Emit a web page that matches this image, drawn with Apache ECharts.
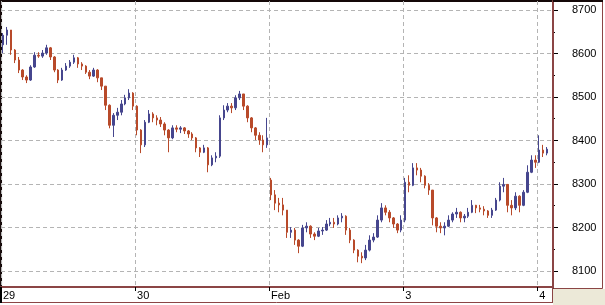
<!DOCTYPE html>
<html><head><meta charset="utf-8">
<script src="https://cdn.jsdelivr.net/npm/echarts@6/dist/echarts.min.js"></script>
<style>html,body{margin:0;padding:0;background:#fff}#c{width:605px;height:305px}</style>
</head><body><div id="c"></div>
<script>
const dayLabels = ['29', '30', 'Feb', '3', '4'];
const barsPerDay = 34;
const totalBars = 140;
const yTicks = [8100, 8200, 8300, 8400, 8500, 8600, 8700];
const yMinorTicks = [8150, 8250, 8350, 8450, 8550, 8650];
const yMin = 8063.2, yMax = 8720.7;

// [open, close, low, high]
const day29 = [
[8620,8642,8601,8647],[8642,8654,8620,8661],[8654,8608,8597,8654],[8608,8585,8578,8610],
[8585,8562,8555,8592],[8562,8546,8539,8564],[8546,8539,8532,8550],[8539,8569,8537,8573],
[8569,8596,8567,8603],[8596,8594,8590,8603],[8594,8601,8590,8608],[8601,8613,8597,8620],
[8613,8592,8585,8615],[8592,8562,8557,8594],[8562,8539,8532,8564],[8539,8562,8537,8567],
[8562,8571,8560,8578],[8571,8580,8567,8585],[8580,8590,8576,8597],[8590,8576,8567,8592],
[8576,8571,8562,8580],[8571,8557,8553,8573],[8557,8548,8541,8562],[8548,8562,8546,8567],
[8562,8544,8534,8564],[8544,8525,8516,8544],[8525,8481,8470,8525],[8481,8435,8428,8483],
[8435,8458,8408,8463],[8458,8465,8447,8475],[8465,8484,8458,8493],[8484,8498,8481,8505],
[8498,8509,8493,8518],[8509,8479,8470,8511]
];
const day30 = [
[8479,8424,8412,8481],[8424,8390,8371,8426],[8390,8442,8385,8447],[8442,8461,8440,8470],
[8461,8452,8442,8465],[8452,8447,8435,8458],[8447,8438,8431,8454],[8438,8424,8412,8442],
[8424,8406,8373,8426],[8406,8429,8403,8435],[8429,8426,8419,8435],[8426,8429,8417,8433],
[8429,8422,8415,8431],[8422,8415,8406,8424],[8415,8406,8401,8419],[8406,8383,8373,8408],
[8383,8373,8362,8385],[8373,8383,8371,8390],[8383,8344,8327,8385],[8344,8360,8341,8366],
[8360,8364,8350,8373],[8364,8452,8360,8458],[8452,8470,8447,8481],[8470,8479,8465,8486],
[8479,8475,8463,8486],[8475,8498,8470,8504],[8498,8507,8493,8514],[8507,8479,8470,8507],
[8479,8452,8442,8481],[8452,8429,8419,8454],[8429,8412,8401,8431],[8412,8401,8390,8419],
[8401,8390,8373,8412],[8390,8406,8383,8452]
];
const dayFeb1 = [
[8309,8275,8263,8314],[8275,8256,8240,8286],[8256,8252,8235,8268],[8252,8240,8228,8268],
[8240,8189,8176,8240],[8189,8194,8176,8201],[8194,8171,8160,8199],[8171,8157,8141,8173],
[8157,8199,8155,8206],[8199,8203,8189,8212],[8203,8185,8176,8205],[8185,8180,8171,8189],
[8180,8192,8178,8199],[8192,8194,8183,8201],[8194,8208,8192,8217],[8208,8212,8203,8222],
[8212,8208,8199,8222],[8208,8222,8205,8228],[8222,8226,8212,8233],[8226,8194,8183,8228],
[8194,8171,8164,8199],[8171,8148,8141,8173],[8148,8134,8120,8150],[8134,8130,8118,8143],
[8130,8148,8125,8160],[8148,8171,8145,8182],[8171,8178,8166,8187],[8178,8217,8176,8228],
[8217,8245,8212,8256],[8245,8235,8228,8251],[8235,8222,8212,8240],[8222,8208,8199,8224],
[8208,8194,8187,8210],[8194,8217,8189,8228]
];
const day3 = [
[8217,8304,8212,8314],[8304,8297,8281,8320],[8297,8337,8295,8348],[8337,8332,8320,8348],
[8332,8318,8304,8337],[8318,8297,8290,8320],[8297,8286,8275,8302],[8286,8222,8205,8286],
[8222,8203,8189,8224],[8203,8199,8187,8212],[8199,8203,8182,8212],[8203,8217,8201,8228],
[8217,8231,8212,8235],[8231,8235,8222,8245],[8235,8222,8212,8237],[8222,8226,8212,8231],
[8226,8235,8222,8245],[8235,8251,8233,8263],[8251,8245,8233,8252],[8245,8242,8235,8252],
[8242,8238,8228,8249],[8238,8228,8222,8240],[8228,8240,8222,8245],[8240,8263,8238,8268],
[8263,8295,8260,8304],[8295,8299,8281,8314],[8299,8251,8235,8300],[8251,8245,8228,8263],
[8245,8272,8240,8281],[8272,8251,8235,8274],[8251,8281,8249,8286],[8281,8327,8279,8343],
[8327,8355,8325,8366],[8355,8350,8337,8366]
];
const day4 = [
[8350,8378,8348,8412],[8378,8371,8362,8390],[8371,8380,8366,8385]
];

const categories = [];
for (let i = 0; i < totalBars; i++) {
  categories.push(dayLabels[Math.floor(i / barsPerDay)] + ' #' + (i % barsPerDay + 1));
}
const ohlc = [].concat(day29, day30, dayFeb1, day3, day4);

const BROWN = '#8b4545';
const GRIDC = '#b4b4b4';
const isDayStart = (i) => i % barsPerDay === 0;

const chart = echarts.init(document.getElementById('c'), null, {renderer: 'canvas'});
chart.setOption({
  animation: false,
  backgroundColor: '#fff',
  grid: {left: 1, right: 52, top: 1, bottom: 18, show: true, borderColor: '#140808', borderWidth: 2, backgroundColor: '#fff'},
  xAxis: [{
    type: 'category', data: categories, boundaryGap: true, position: 'bottom',
    axisLine: {show: true, lineStyle: {color: BROWN, width: 2}},
    axisTick: {show: true, interval: isDayStart, length: 4, lineStyle: {color: '#000'}},
    axisLabel: {interval: isDayStart, formatter: (v, i) => dayLabels[Math.floor(i / barsPerDay)],
      align: 'left', margin: 3, color: '#000', fontSize: 11, fontFamily: 'Liberation Sans'},
    splitLine: {show: true, interval: isDayStart, lineStyle: {color: GRIDC, type: [4, 3]}}
  }, {
    type: 'category', data: categories, boundaryGap: true, position: 'bottom',
    axisLine: {show: false}, axisLabel: {show: false}, splitLine: {show: false},
    axisTick: {show: true, interval: (i) => isDayStart(i) && dayLabels[i / barsPerDay] === 'Feb', length: 15, lineStyle: {color: '#000'}}
  }],
  yAxis: [{
    type: 'value', position: 'right', min: yMin, max: yMax,
    axisLine: {show: true, lineStyle: {color: BROWN, width: 2}},
    axisTick: {show: true, customValues: yTicks, length: 5, lineStyle: {color: '#000'}},
    axisLabel: {customValues: yTicks, formatter: (v) => String(Math.round(v)), margin: 19, color: '#000', fontSize: 11, fontFamily: 'Liberation Sans'},
    splitLine: {show: true, lineStyle: {color: GRIDC, type: [4, 3]}}
  }, {
    type: 'value', position: 'right', min: yMin, max: yMax,
    axisLine: {show: false}, axisLabel: {show: false}, splitLine: {show: false},
    axisTick: {show: true, customValues: yMinorTicks, length: 2, lineStyle: {color: '#000'}}
  }],
  series: [{
    type: 'candlestick', data: ohlc, xAxisIndex: 0, yAxisIndex: 0, barWidth: 2,
    itemStyle: {color: '#46468e', color0: '#b84a2a', borderColor: '#46468e', borderColor0: '#b84a2a', borderWidth: 1}
  }],
  graphic: [
    {type: 'rect', z: 100, shape: {x: 553, y: 289, width: 52, height: 16}, style: {fill: '#ece9d8'}},
    {type: 'rect', z: 100, shape: {x: 553.5, y: 0.5, width: 49, height: 288}, style: {fill: 'none', stroke: BROWN, lineWidth: 1}},
    {type: 'line', z: 100, shape: {x1: 553, y1: 1, x2: 603, y2: 1}, style: {stroke: '#140808', lineWidth: 2}},
    {type: 'line', z: 100, shape: {x1: 0, y1: 302.5, x2: 553, y2: 302.5}, style: {stroke: BROWN, lineWidth: 1}},
    {type: 'line', z: 100, shape: {x1: 552.5, y1: 287, x2: 552.5, y2: 303}, style: {stroke: BROWN, lineWidth: 1}},
    {type: 'line', z: 100, shape: {x1: 1, y1: 287, x2: 1, y2: 303}, style: {stroke: '#000', lineWidth: 2}}
  ]
});
</script></body></html>
